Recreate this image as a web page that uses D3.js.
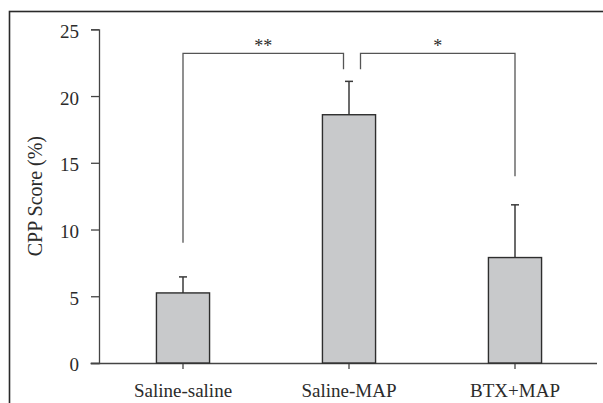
<!DOCTYPE html>
<html>
<head>
<meta charset="utf-8">
<script src="https://cdn.jsdelivr.net/npm/d3@7"></script>
<style>
  html, body { margin: 0; padding: 0; background: #fff; }
  svg { display: block; }
  text { font-family: "Liberation Serif", "DejaVu Serif", serif; fill: #2b2b2b; }
</style>
</head>
<body>
<svg id="chart" width="603" height="403"></svg>
<script>
// Group means and standard errors of the CPP score (%)
const groups = ["Saline-saline", "Saline-MAP", "BTX+MAP"];
const means = [5.25, 18.6, 7.9];
const errors = [1.2, 2.5, 3.95];
const yTicks = [0, 5, 10, 15, 20, 25];

// Significance brackets: group pair, leg end values and the star label
const brackets = [
  { from: "Saline-saline", to: "Saline-MAP", leftEnd: 9.0, rightEnd: 22.0, label: "**", offsetFrom: 0, offsetTo: -5.5 },
  { from: "Saline-MAP", to: "BTX+MAP", leftEnd: 22.0, rightEnd: 14.0, label: "*", offsetFrom: 11.5, offsetTo: 0 }
];
const bracketTop = 23.2;

const svg = d3.select("#chart");
const W = 603, H = 403;

// outer frame
svg.append("rect")
  .attr("x", 9.5).attr("y", 11.5)
  .attr("width", W).attr("height", H)
  .attr("fill", "none").attr("stroke", "#2a2a2a").attr("stroke-width", 1.6);

const x = d3.scaleBand().domain(groups).range([100, 598]).paddingInner(0.68).paddingOuter(0.34);
const y = d3.scaleLinear().domain([0, 25]).range([363, 29.3]);

const cx = g => x(g) + x.bandwidth() / 2;

// y axis
const yAxis = svg.append("g").attr("transform", "translate(99,0)")
  .call(d3.axisLeft(y).tickValues(yTicks).tickSize(8).tickPadding(12));
yAxis.select(".domain").attr("stroke", "#444").attr("stroke-width", 1.3);
yAxis.selectAll(".tick line").attr("stroke", "#444").attr("stroke-width", 1.3);
yAxis.selectAll(".tick text").attr("font-size", 19).attr("fill", "#2b2b2b")
  .attr("dy", "0.42em").style("font-family", "Liberation Serif, serif");

// x axis (baseline)
const xAxis = svg.append("g").attr("transform", "translate(0,363)")
  .call(d3.axisBottom(x).tickSize(6).tickPadding(10).tickSizeOuter(0));
xAxis.select(".domain").attr("d", "M90.5,0.5H597").attr("stroke", "#444").attr("stroke-width", 1.3);
xAxis.selectAll(".tick line").attr("stroke", "#444").attr("stroke-width", 1.3);
xAxis.selectAll(".tick text").attr("font-size", 19).attr("fill", "#2b2b2b")
  .attr("dy", "0.95em").style("font-family", "Liberation Serif, serif");

// y axis title
svg.append("text")
  .attr("transform", `translate(42,${(y(0) + y(25)) / 2}) rotate(-90)`)
  .attr("text-anchor", "middle")
  .attr("font-size", 20)
  .text("CPP Score (%)");

// error bars (upper whisker only)
const eb = svg.append("g").attr("stroke", "#3a3a3a").attr("stroke-width", 1.5);
groups.forEach((g, i) => {
  eb.append("line")
    .attr("x1", cx(g)).attr("x2", cx(g))
    .attr("y1", y(means[i])).attr("y2", y(means[i] + errors[i]));
  eb.append("line")
    .attr("x1", cx(g) - 4).attr("x2", cx(g) + 4)
    .attr("y1", y(means[i] + errors[i])).attr("y2", y(means[i] + errors[i]));
});

// bars
svg.append("g").selectAll("rect").data(groups).join("rect")
  .attr("x", g => x(g))
  .attr("y", (g, i) => y(means[i]))
  .attr("width", x.bandwidth())
  .attr("height", (g, i) => y(0) - y(means[i]))
  .attr("fill", "#c8c9cb")
  .attr("stroke", "#2e2e2e")
  .attr("stroke-width", 1.4);

// significance brackets
const br = svg.append("g");
brackets.forEach(b => {
  const x1 = cx(b.from) + b.offsetFrom;
  const x2 = cx(b.to) + b.offsetTo;
  br.append("path")
    .attr("d", `M${x1},${y(b.leftEnd)}V${y(bracketTop)}H${x2}V${y(b.rightEnd)}`)
    .attr("fill", "none").attr("stroke", "#555").attr("stroke-width", 1.3);
  br.append("text")
    .attr("x", (x1 + x2) / 2).attr("y", y(bracketTop) - 1)
    .attr("text-anchor", "middle")
    .attr("font-size", 18)
    .attr("fill", "#444")
    .text(b.label);
});
</script>
</body>
</html>
